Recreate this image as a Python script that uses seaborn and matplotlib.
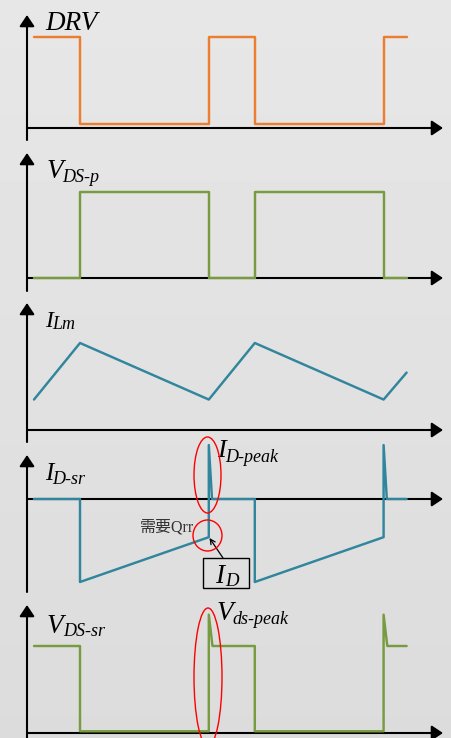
import numpy as np
import pandas as pd
import matplotlib
matplotlib.use("Agg")
import matplotlib.pyplot as plt
import matplotlib.transforms as mtransforms
from matplotlib.patches import Ellipse, Rectangle
import seaborn as sns

sns.set_theme(style="white")
plt.rcParams["font.family"] = ["Liberation Serif", "DejaVu Serif"]

# ---- waveform data (time in units of the switching interval) ----
t_drv = [0, 1, 1, 3.8, 3.8, 4.8, 4.8, 7.6, 7.6, 8.1]
drv = [1, 1, 0.04, 0.04, 1, 1, 0.04, 0.04, 1, 1]

t_vdsp = [0, 1, 1, 3.8, 3.8, 4.8, 4.8, 7.6, 7.6, 8.1]
vds_p = [0, 0, 1, 1, 0, 0, 1, 1, 0, 0]

t_ilm = [0, 1, 3.8, 4.8, 7.6, 8.1]
i_lm = [0.35, 1.0, 0.35, 1.0, 0.35, 0.66]

t_idsr = [0, 1, 1, 3.8, 3.8, 3.87, 4.8, 4.8, 7.6, 7.6, 7.67, 8.1]
i_dsr = [0, 0, -1, -0.46, 0.65, 0, 0, -1, -0.46, 0.65, 0, 0]

t_vdssr = [0, 1, 1, 3.8, 3.8, 3.88, 4.8, 4.8, 7.6, 7.6, 7.68, 8.1]
vds_sr = [1, 1, 0.02, 0.02, 1.36, 1, 1, 0.02, 0.02, 1.36, 1, 1]

ORANGE = "#ED7D31"
GREEN = "#789A40"
TEAL = "#31859C"

W, H = 451, 738
fig = plt.figure(figsize=(W / 100, H / 100), dpi=100)

# pixel coordinates, origin top-left
pix = mtransforms.Affine2D().scale(0.01, -0.01).translate(0, H / 100) + fig.dpi_scale_trans

# soft grey backdrop
bg = fig.add_axes([0, 0, 1, 1], zorder=-1)
grad = np.linspace(0.905, 0.862, 200)[:, None]
bg.imshow(grad, cmap="gray", vmin=0, vmax=1, aspect="auto", extent=[0, 1, 0, 1])
bg.set_axis_off()

X0_PX, T_PX = 34.0, 46.0  # pixel of t=0, pixels per time unit


def make_panel(zero_px, scale_px):
    ax = fig.add_axes([0, 0, 1, 1])
    ax.patch.set_alpha(0)
    ax.set_xlim((0 - X0_PX) / T_PX, (W - X0_PX) / T_PX)
    ax.set_ylim((zero_px - H) / scale_px, zero_px / scale_px)
    ax.set_axis_off()
    return ax


def axes_arrows(ax, zero_px, tip_px, bottom_px):
    style = "-|>,head_length=0.45,head_width=0.3"
    kw = dict(xycoords=pix, textcoords=pix, annotation_clip=False, zorder=1,
              arrowprops=dict(arrowstyle=style, lw=1.5, color="black",
                              mutation_scale=15, shrinkA=0, shrinkB=0))
    ax.annotate("", xy=(27, tip_px), xytext=(27, bottom_px), **kw)
    ax.annotate("", xy=(443, zero_px), xytext=(27, zero_px), **kw)


def label(x, y, main, sub=None, sx=None, sy=None, size=19.5, subsize=13):
    fig.text(x, y, main, transform=pix, fontsize=size, fontstyle="italic",
             ha="left", va="baseline", color="black")
    if sub:
        fig.text(sx, sy, sub, transform=pix, fontsize=subsize, fontstyle="italic",
                 ha="left", va="baseline", color="black")


def trace(ax, t, v, color):
    df = pd.DataFrame({"t": t, "v": v})
    sns.lineplot(data=df, x="t", y="v", ax=ax, color=color, linewidth=1.75,
                 estimator=None, sort=False, zorder=2)
    ax.set_xlabel("")
    ax.set_ylabel("")


# DRV
ax1 = make_panel(128, 91)
axes_arrows(ax1, 128, 15, 140)
trace(ax1, t_drv, drv, ORANGE)
label(45, 30, "DRV")

# V_DS-p
ax2 = make_panel(278, 86)
axes_arrows(ax2, 278, 153, 291)
trace(ax2, t_vdsp, vds_p, GREEN)
label(47, 178, "V", "DS-p", 62, 182)

# I_Lm
ax3 = make_panel(430, 87)
axes_arrows(ax3, 430, 303, 442)
trace(ax3, t_ilm, i_lm, TEAL)
label(45, 327, "I", "Lm", 52, 329, size=17, subsize=13)

# I_D-sr
ax4 = make_panel(499, 83)
axes_arrows(ax4, 499, 455, 592)
trace(ax4, t_idsr, i_dsr, TEAL)
label(45, 480, "I", "D-sr", 52, 484, size=18)
label(217, 457, "I", "D-peak", 225, 462, size=19)

# V_DS-sr
ax5 = make_panel(733, 87)
axes_arrows(ax5, 733, 605, 740)
trace(ax5, t_vdssr, vds_sr, GREEN)
label(47, 633, "V", "DS-sr", 63, 636)
label(217, 620, "V", "ds-peak", 232, 624)

# red highlight ellipses
for cx, cy, w, h in [(207.5, 475, 27, 76), (207.5, 535.5, 29, 31), (208, 677, 28, 138)]:
    fig.add_artist(Ellipse((cx, cy), w, h, transform=pix, fill=False,
                           edgecolor="red", linewidth=1.0, zorder=5))

# I_D call-out box and arrow
fig.add_artist(Rectangle((203, 558), 46, 30, transform=pix, fill=False,
                         edgecolor="black", linewidth=1.0, zorder=5))
label(215, 583, "I", "D", 225, 586, size=19.5, subsize=13.5)
ax4.annotate("", xy=(209.5, 538), xytext=(223, 558), xycoords=pix, textcoords=pix,
             annotation_clip=False, zorder=6,
             arrowprops=dict(arrowstyle="->", lw=0.9, color="black",
                             mutation_scale=9, shrinkA=0, shrinkB=0))

fig.text(140, 531, "需要Qrr", transform=pix, fontsize=11.5, color="#333333",
         ha="left", va="baseline", family=["Liberation Serif", "Noto Sans CJK SC"])

fig.savefig("out.png", dpi=100)
